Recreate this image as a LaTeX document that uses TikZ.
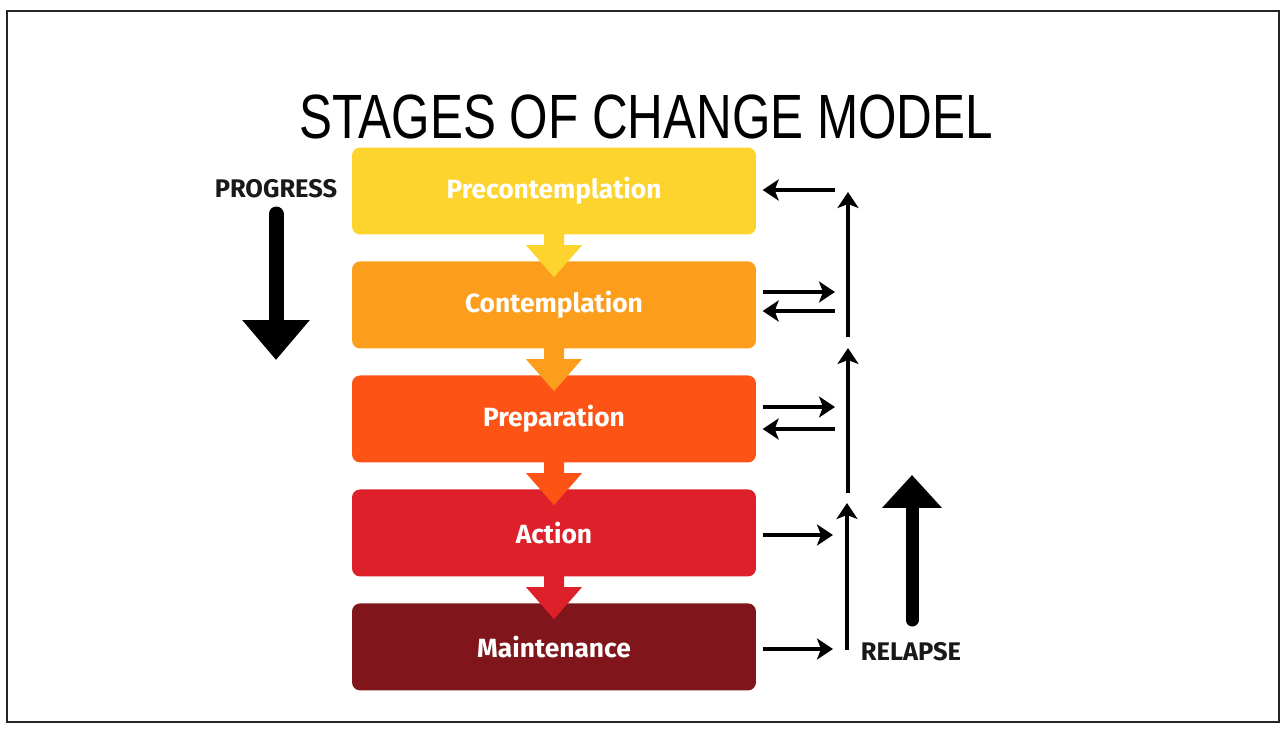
\documentclass[tikz,border=0pt]{standalone}
\usepackage{fontspec}
\setmainfont{Fira Sans}
\newfontfamily\titlefont{Liberation Sans}
\usetikzlibrary{arrows.meta}

\definecolor{precol}{RGB}{253,212,46}
\definecolor{concol}{RGB}{252,158,28}
\definecolor{prepcol}{RGB}{253,84,22}
\definecolor{actcol}{RGB}{221,32,42}
\definecolor{maincol}{RGB}{128,22,27}

\begin{document}
\begin{tikzpicture}[x=0.02cm, y=-0.02cm, node distance={2.28cm}, thick,
    stage/.style = {rounded corners=0.16cm, minimum width=8.08cm, minimum height=1.74cm, inner sep=0pt,
      text=white, font=\bfseries\fontsize{15}{17}\selectfont},
    label/.style = {font=\bfseries\fontsize{14.5}{16}\selectfont, text=black!90},
    back/.style = {line width=0.095cm, -{Stealth[length=0.32cm, width=0.42cm, inset=0.08cm]}},
    big/.style = {line width=#1, line cap=round}]
      \useasboundingbox (0,0) rectangle (1283,729);
      \draw[line width=0.05cm, black!85] (7,11) rectangle (1279,722);

      \node (title) at (646,117) {\titlefont\fontsize{35.6}{40}\selectfont\scalebox{0.79}[1]{STAGES OF CHANGE MODEL}};

      % the five stages
      \node[stage, fill=precol] (1) at (554,191) {Precontemplation};
      \node[stage, fill=concol] (2) [below of=1] {Contemplation};
      \node[stage, fill=prepcol] (3) [below of=2] {Preparation};
      \node[stage, fill=actcol] (4) [below of=3] {Action};
      \node[stage, fill=maincol] (5) [below of=4] {Maintenance};

      \foreach \a/\c in {1/precol, 2/concol, 3/prepcol, 4/actcol}
        \fill[\c, shift={(\a.south)}] (-10,-2) -- (10,-2) -- (10,10) -- (28,10) -- (0,42) -- (-28,10) -- (-10,10) -- cycle;

      % progress
      \node[label] (progress) at (276,189) {PROGRESS};
      \coordinate (g1) at (276,214);
      \coordinate (g2) at (276,360);
      \draw[big=0.3cm, -{Triangle[length=0.8cm, width=1.3cm]}] (g1) -- (g2);

      % relapse
      \node[label] (relapse) at (911,652) {RELAPSE};
      \coordinate (h1) at (912,620);
      \coordinate (h2) at (912,475);
      \draw[big=0.26cm, -{Triangle[length=0.66cm, width=1.16cm]}] (h1) -- (h2);

      \coordinate (a1) at (835,190);
      \coordinate (c1) at (835,292);
      \coordinate (c2) at (835,311);
      \coordinate (d1) at (835,407);
      \coordinate (d2) at (835,429);
      \coordinate (e1) at (833,535);
      \coordinate (f1) at (833,649);
      \coordinate (v1t) at (848,192);
      \coordinate (v1b) at (848,337);
      \coordinate (v2t) at (848,348);
      \coordinate (v2b) at (848,493);
      \coordinate (v3t) at (847,503);
      \coordinate (v3b) at (847,650);

      \path[back, shorten >=0.12cm] (a1) edge (1.east |- a1)
      (c2) edge (2.east |- c2)
      (d2) edge (3.east |- d2);
      \path[back, shorten <=0.12cm] (2.east |- c1) edge (c1)
      (3.east |- d1) edge (d1)
      (4.east |- e1) edge (e1)
      (5.east |- f1) edge (f1);
      \path[back]
      (v1b) edge (v1t)
      (v2b) edge (v2t)
      (v3b) edge (v3t);
    \end{tikzpicture}
\end{document}
